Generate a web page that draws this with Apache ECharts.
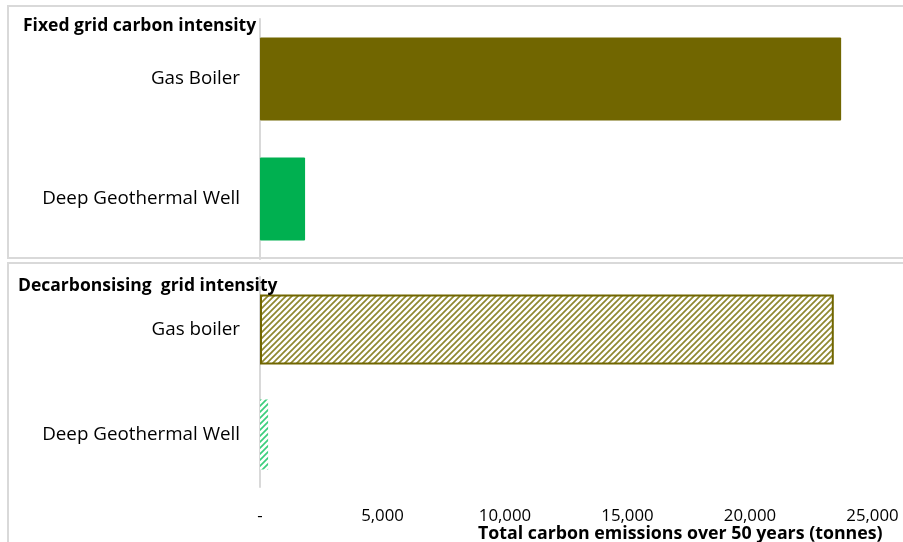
<!DOCTYPE html>
<html>
<head>
<meta charset="utf-8">
<script src="https://cdn.jsdelivr.net/npm/echarts@6/dist/echarts.min.js"></script>
<style>
  html, body { margin: 0; padding: 0; background: #ffffff; }
  #chart { width: 903px; height: 542px; }
</style>
</head>
<body>
<div id="chart"></div>
<script>
// Panel data: total carbon emissions over 50 years (tonnes)
const fixedCategories = ['Gas Boiler', 'Deep Geothermal Well'];
const fixedValues = [23720, 1840];
const decarbCategories = ['Gas boiler', 'Deep Geothermal Well'];
const decarbValues = [23420, 330];
const tickValues = [0, 5000, 10000, 15000, 20000, 25000];

const OLIVE = '#716600';
const GREEN = '#00b050';
const FONT = '"Open Sans", "Liberation Sans", sans-serif';

// Diagonal hatch tiles for the decarbonising panel
function hatch(color) {
  const c = document.createElement('canvas');
  c.width = 6; c.height = 6;
  const g = c.getContext('2d');
  g.fillStyle = '#ffffff';
  g.fillRect(0, 0, 6, 6);
  g.strokeStyle = color;
  g.lineWidth = 1.7;
  g.beginPath();
  g.moveTo(0, 6); g.lineTo(6, 0);
  g.moveTo(-1, 1); g.lineTo(1, -1);
  g.moveTo(5, 7); g.lineTo(7, 5);
  g.stroke();
  return c;
}

const chart = echarts.init(document.getElementById('chart'), null, { renderer: 'canvas' });

const xMax = tickValues[tickValues.length - 1];
const xStep = tickValues[1] - tickValues[0];

chart.setOption({
  animation: false,
  backgroundColor: '#ffffff',
  graphic: [
    { type: 'rect', shape: { x: 8, y: 6, width: 900, height: 252 },
      style: { fill: 'none', stroke: '#d9d9d9', lineWidth: 2 }, z: -1 },
    { type: 'rect', shape: { x: 8, y: 263, width: 900, height: 290 },
      style: { fill: 'none', stroke: '#d9d9d9', lineWidth: 2 }, z: -1 }
  ],
  title: [
    { text: 'Fixed grid carbon intensity', left: 18, top: 12,
      textStyle: { fontFamily: FONT, fontSize: 17.5, fontWeight: 'bold', color: '#000' } },
    { text: 'Decarbonsising  grid intensity', left: 13, top: 272, z: 10,
      textStyle: { fontFamily: FONT, fontSize: 17.5, fontWeight: 'bold', color: '#000' } },
    { text: 'Total carbon emissions over 50 years (tonnes)', left: 473, top: 520,
      textStyle: { fontFamily: FONT, fontSize: 17.8, fontWeight: 'bold', color: '#000' } }
  ],
  grid: [
    { left: 260, right: 30.5, top: 19, height: 240 },
    { left: 260, right: 30.5, top: 277, height: 210 }
  ],
  xAxis: [
    { gridIndex: 0, type: 'value', min: 0, max: xMax, interval: xStep,
      axisLine: { show: false }, axisTick: { show: false },
      axisLabel: { show: false }, splitLine: { show: false } },
    { gridIndex: 1, type: 'value', min: 0, max: xMax, interval: xStep,
      axisLine: { show: false }, axisTick: { show: false }, splitLine: { show: false },
      axisLabel: {
        margin: 21, fontFamily: FONT, fontSize: 16.8, color: '#000',
        formatter: v => v === 0 ? '-' : v.toLocaleString('en-US')
      } }
  ],
  yAxis: [
    { gridIndex: 0, type: 'category', inverse: true, data: fixedCategories,
      axisLine: { show: true, lineStyle: { color: '#d9d9d9', width: 2 } },
      axisTick: { show: false },
      axisLabel: { margin: 20, fontFamily: FONT, fontSize: 18.8, color: '#000' } },
    { gridIndex: 1, type: 'category', inverse: true, data: decarbCategories,
      axisLine: { show: true, lineStyle: { color: '#d9d9d9', width: 2 } },
      axisTick: { show: false },
      axisLabel: { margin: 20, fontFamily: FONT, fontSize: 18.8, color: '#000' } }
  ],
  series: [
    { type: 'bar', xAxisIndex: 0, yAxisIndex: 0, barWidth: 83,
      data: fixedValues.map((v, i) => ({
        value: v,
        itemStyle: { color: i === 0 ? OLIVE : GREEN, borderRadius: 1 }
      })) },
    { type: 'bar', xAxisIndex: 1, yAxisIndex: 1, barWidth: 70,
      data: decarbValues.map((v, i) => ({
        value: v,
        itemStyle: i === 0
          ? { color: { image: hatch('#8f8830'), repeat: 'repeat' }, borderColor: OLIVE, borderWidth: 2 }
          : { color: { image: hatch('#3ccf7c'), repeat: 'repeat' } }
      })) }
  ]
});
</script>
</body>
</html>
